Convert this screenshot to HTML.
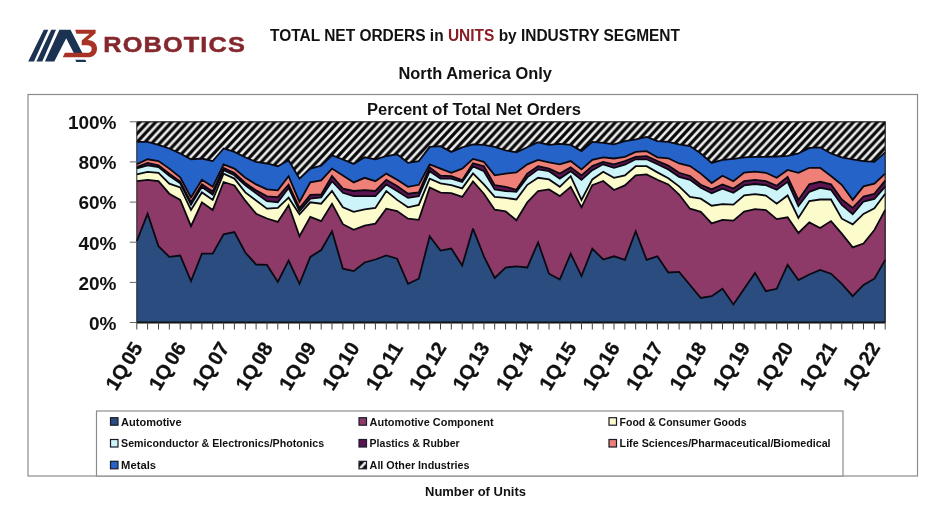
<!DOCTYPE html>
<html lang="en"><head><meta charset="utf-8"><title>Total Net Orders in Units by Industry Segment</title>
<style>html,body{margin:0;padding:0;background:#fff}body{width:946px;height:516px;overflow:hidden}svg{display:block}text{font-family:"Liberation Sans",sans-serif;font-weight:bold;fill:#111}</style>
</head><body>
<svg width="946" height="516" viewBox="0 0 946 516">
<defs><pattern id="hatch" patternUnits="userSpaceOnUse" width="7.93" height="8.5"><rect width="7.93" height="8.5" fill="#eeeeee"/><path d="M-3.965,4.25 L3.965,-4.25 M-1.9825,10.625 L9.9125,-2.125 M3.965,12.75 L11.895,4.25" stroke="#080808" stroke-width="3.2" fill="none"/></pattern></defs>
<rect width="946" height="516" fill="#fff"/>
<g id="logo">
<polygon points="28.2,61.6 34.0,61.6 48.3,29.8 43.8,29.8" fill="#1b3252"/>
<polygon points="36.4,61.6 42.3,61.6 56.0,29.8 51.3,29.8" fill="#1b3252"/>
<polygon points="44.9,61.6 54.3,61.6 66.2,38.2 73.9,53.2 82.5,53.2 70.5,29.8 59.4,29.8" fill="#1b3252"/>
<polygon points="75.2,59.7 85.4,59.7 86.3,61.9 76.4,61.9" fill="#1b3252"/>
<path d="M75.2,29.8 H95.6 V33.3 L87.6,39.9 C93.500,40.2 97,43.5 97,48.4 C97,54 93.3,57.3 88,57.3 H62.8 L64.9,52.8 H86.8 C89.8,52.8 91.7,51.4 91.7,48.900 C91.7,46.5 90,45.3 86.8,45.3 H81.7 V40.4 L89.6,33.8 H76.4 Z" fill="#a93226"/>
<text x="103.3" y="52.2" font-size="22.6" textLength="142.6" lengthAdjust="spacingAndGlyphs" style="fill:#84282e;letter-spacing:1px" stroke="#84282e" stroke-width="0.5">ROBOTICS</text>
</g>
<text x="270" y="41.3" font-size="15.6" textLength="410" lengthAdjust="spacingAndGlyphs">TOTAL NET ORDERS in <tspan style="fill:#8c1c24">UNITS</tspan> by INDUSTRY SEGMENT</text>
<text x="398.5" y="79" font-size="15.6" textLength="153.5" lengthAdjust="spacingAndGlyphs">North America Only</text>
<rect x="28" y="94.5" width="889.5" height="381.5" fill="#fff" stroke="#8c8c8c" stroke-width="1.2"/>
<text x="367" y="114.5" font-size="15.6" textLength="214" lengthAdjust="spacingAndGlyphs">Percent of Total Net Orders</text>
<g stroke="none">
<polygon points="136.8,241.2 147.6,213.7 158.5,246.2 169.3,256.9 180.2,255.5 191.0,281.2 201.9,253.7 212.7,253.7 223.6,234.4 234.4,232.0 245.3,252.5 256.1,264.5 267.0,264.9 277.8,282.0 288.6,260.5 299.5,283.8 310.3,256.9 321.2,250.0 332.0,231.2 342.9,268.7 353.7,271.1 364.6,262.5 375.4,259.5 386.3,255.5 397.1,258.7 408.0,283.8 418.8,278.7 429.7,236.2 440.5,250.6 451.3,248.6 462.2,265.5 473.0,228.6 483.9,256.3 494.7,277.9 505.6,267.5 516.4,266.3 527.3,267.5 538.1,242.4 549.0,273.7 559.8,279.6 570.7,253.7 581.5,276.1 592.3,248.6 603.2,259.5 614.0,256.3 624.9,259.9 635.7,231.2 646.6,259.9 657.4,256.3 668.3,272.5 679.1,271.9 690.0,285.0 700.8,298.0 711.7,296.2 722.5,288.8 733.4,304.4 744.2,288.8 755.0,272.9 765.9,291.2 776.7,288.8 787.6,264.9 798.4,280.0 809.3,274.5 820.1,269.9 831.0,273.7 841.8,283.8 852.7,296.2 863.5,285.0 874.4,278.7 885.2,259.9 885.2,322.5 874.4,322.5 863.5,322.5 852.7,322.5 841.8,322.5 831.0,322.5 820.1,322.5 809.3,322.5 798.4,322.5 787.6,322.5 776.7,322.5 765.9,322.5 755.0,322.5 744.2,322.5 733.4,322.5 722.5,322.5 711.7,322.5 700.8,322.5 690.0,322.5 679.1,322.5 668.3,322.5 657.4,322.5 646.6,322.5 635.7,322.5 624.9,322.5 614.0,322.5 603.2,322.5 592.3,322.5 581.5,322.5 570.7,322.5 559.8,322.5 549.0,322.5 538.1,322.5 527.3,322.5 516.4,322.5 505.6,322.5 494.7,322.5 483.9,322.5 473.0,322.5 462.2,322.5 451.3,322.5 440.5,322.5 429.7,322.5 418.8,322.5 408.0,322.5 397.1,322.5 386.3,322.5 375.4,322.5 364.6,322.5 353.7,322.5 342.9,322.5 332.0,322.5 321.2,322.5 310.3,322.5 299.5,322.5 288.6,322.5 277.8,322.5 267.0,322.5 256.1,322.5 245.3,322.5 234.4,322.5 223.6,322.5 212.7,322.5 201.9,322.5 191.0,322.5 180.2,322.5 169.3,322.5 158.5,322.5 147.6,322.5 136.8,322.5" fill="#2b4c7e"/>
<polygon points="136.8,181.2 147.6,179.8 158.5,181.2 169.3,193.7 180.2,199.9 191.0,226.2 201.9,202.3 212.7,210.1 223.6,182.0 234.4,185.4 245.3,200.7 256.1,213.7 267.0,218.5 277.8,221.9 288.6,205.3 299.5,236.2 310.3,216.9 321.2,221.1 332.0,203.7 342.9,224.2 353.7,229.8 364.6,225.6 375.4,223.6 386.3,208.7 397.1,211.1 408.0,218.7 418.8,219.9 429.7,187.4 440.5,192.6 451.3,193.2 462.2,196.9 473.0,181.4 483.9,193.7 494.7,209.7 505.6,211.3 516.4,220.3 527.3,202.3 538.1,191.0 549.0,189.4 559.8,196.1 570.7,186.8 581.5,207.3 592.3,185.2 603.2,181.0 614.0,190.0 624.9,185.4 635.7,175.4 646.6,174.4 657.4,179.8 668.3,184.4 679.1,194.5 690.0,208.7 700.8,211.9 711.7,223.4 722.5,219.9 733.4,220.7 744.2,211.5 755.0,209.1 765.9,210.1 776.7,219.1 787.6,217.3 798.4,233.0 809.3,222.4 820.1,228.0 831.0,221.1 841.8,233.6 852.7,247.4 863.5,243.6 874.4,230.0 885.2,209.9 885.2,259.9 874.4,278.7 863.5,285.0 852.7,296.2 841.8,283.8 831.0,273.7 820.1,269.9 809.3,274.5 798.4,280.0 787.6,264.9 776.7,288.8 765.9,291.2 755.0,272.9 744.2,288.8 733.4,304.4 722.5,288.8 711.7,296.2 700.8,298.0 690.0,285.0 679.1,271.9 668.3,272.5 657.4,256.3 646.6,259.9 635.7,231.2 624.9,259.9 614.0,256.3 603.2,259.5 592.3,248.6 581.5,276.1 570.7,253.7 559.8,279.6 549.0,273.7 538.1,242.4 527.3,267.5 516.4,266.3 505.6,267.5 494.7,277.9 483.9,256.3 473.0,228.6 462.2,265.5 451.3,248.6 440.5,250.6 429.7,236.2 418.8,278.7 408.0,283.8 397.1,258.7 386.3,255.5 375.4,259.5 364.6,262.5 353.7,271.1 342.9,268.7 332.0,231.2 321.2,250.0 310.3,256.9 299.5,283.8 288.6,260.5 277.8,282.0 267.0,264.9 256.1,264.5 245.3,252.5 234.4,232.0 223.6,234.4 212.7,253.7 201.9,253.7 191.0,281.2 180.2,255.5 169.3,256.9 158.5,246.2 147.6,213.7 136.8,241.2" fill="#8e3a68"/>
<polygon points="136.8,174.4 147.6,171.8 158.5,172.8 169.3,183.6 180.2,187.4 191.0,209.9 201.9,192.4 212.7,199.9 223.6,173.6 234.4,178.6 245.3,192.4 256.1,200.5 267.0,208.7 277.8,207.9 288.6,197.7 299.5,214.3 310.3,202.3 321.2,203.7 332.0,191.0 342.9,207.3 353.7,211.9 364.6,209.3 375.4,207.9 386.3,191.0 397.1,199.9 408.0,207.3 418.8,204.9 429.7,178.6 440.5,183.4 451.3,185.2 462.2,188.4 473.0,173.4 483.9,184.4 494.7,196.9 505.6,197.9 516.4,199.5 527.3,184.8 538.1,177.8 549.0,179.4 559.8,186.8 570.7,176.2 581.5,199.9 592.3,179.4 603.2,171.8 614.0,177.8 624.9,175.4 635.7,166.2 646.6,166.2 657.4,172.4 668.3,178.2 679.1,186.4 690.0,196.9 700.8,198.7 711.7,205.7 722.5,204.1 733.4,204.7 744.2,195.3 755.0,194.1 765.9,195.5 776.7,203.7 787.6,195.5 798.4,217.9 809.3,201.1 820.1,199.5 831.0,199.5 841.8,218.7 852.7,224.4 863.5,213.9 874.4,208.3 885.2,193.7 885.2,209.9 874.4,230.0 863.5,243.6 852.7,247.4 841.8,233.6 831.0,221.1 820.1,228.0 809.3,222.4 798.4,233.0 787.6,217.3 776.7,219.1 765.9,210.1 755.0,209.1 744.2,211.5 733.4,220.7 722.5,219.9 711.7,223.4 700.8,211.9 690.0,208.7 679.1,194.5 668.3,184.4 657.4,179.8 646.6,174.4 635.7,175.4 624.9,185.4 614.0,190.0 603.2,181.0 592.3,185.2 581.5,207.3 570.7,186.8 559.8,196.1 549.0,189.4 538.1,191.0 527.3,202.3 516.4,220.3 505.6,211.3 494.7,209.7 483.9,193.7 473.0,181.4 462.2,196.9 451.3,193.2 440.5,192.6 429.7,187.4 418.8,219.9 408.0,218.7 397.1,211.1 386.3,208.7 375.4,223.6 364.6,225.6 353.7,229.8 342.9,224.2 332.0,203.7 321.2,221.1 310.3,216.9 299.5,236.2 288.6,205.3 277.8,221.9 267.0,218.5 256.1,213.7 245.3,200.7 234.4,185.4 223.6,182.0 212.7,210.1 201.9,202.3 191.0,226.2 180.2,199.9 169.3,193.7 158.5,181.2 147.6,179.8 136.8,181.2" fill="#fbfbcb"/>
<polygon points="136.8,168.3 147.6,165.3 158.5,167.1 169.3,175.7 180.2,183.3 191.0,204.6 201.9,186.9 212.7,194.6 223.6,170.3 234.4,175.3 245.3,185.3 256.1,193.3 267.0,201.2 277.8,202.2 288.6,187.9 299.5,211.2 310.3,198.7 321.2,197.5 332.0,181.2 342.9,192.8 353.7,196.1 364.6,196.1 375.4,196.1 386.3,184.4 397.1,191.0 408.0,197.9 418.8,196.1 429.7,171.2 440.5,178.6 451.3,178.6 462.2,182.0 473.0,166.4 483.9,171.2 494.7,189.4 505.6,191.0 516.4,191.8 527.3,177.4 538.1,169.4 549.0,171.2 559.8,178.6 570.7,171.2 581.5,179.8 592.3,170.2 603.2,164.3 614.0,167.8 624.9,164.7 635.7,159.3 646.6,159.3 657.4,164.3 668.3,169.4 679.1,176.8 690.0,179.8 700.8,187.8 711.7,193.2 722.5,188.6 733.4,192.8 744.2,185.4 755.0,184.0 765.9,185.2 776.7,189.8 787.6,181.8 798.4,206.1 809.3,191.8 820.1,187.8 831.0,189.8 841.8,204.9 852.7,214.3 863.5,201.5 874.4,198.9 885.2,186.6 885.2,193.7 874.4,208.3 863.5,213.9 852.7,224.4 841.8,218.7 831.0,199.5 820.1,199.5 809.3,201.1 798.4,217.9 787.6,195.5 776.7,203.7 765.9,195.5 755.0,194.1 744.2,195.3 733.4,204.7 722.5,204.1 711.7,205.7 700.8,198.7 690.0,196.9 679.1,186.4 668.3,178.2 657.4,172.4 646.6,166.2 635.7,166.2 624.9,175.4 614.0,177.8 603.2,171.8 592.3,179.4 581.5,199.9 570.7,176.2 559.8,186.8 549.0,179.4 538.1,177.8 527.3,184.8 516.4,199.5 505.6,197.9 494.7,196.9 483.9,184.4 473.0,173.4 462.2,188.4 451.3,185.2 440.5,183.4 429.7,178.6 418.8,204.9 408.0,207.3 397.1,199.9 386.3,191.0 375.4,207.9 364.6,209.3 353.7,211.9 342.9,207.3 332.0,191.0 321.2,203.7 310.3,202.3 299.5,214.3 288.6,197.7 277.8,207.9 267.0,208.7 256.1,200.5 245.3,192.4 234.4,178.6 223.6,173.6 212.7,199.9 201.9,192.4 191.0,209.9 180.2,187.4 169.3,183.6 158.5,172.8 147.6,171.8 136.8,174.4" fill="#cdf4f8"/>
<polygon points="136.8,167.2 147.6,162.9 158.5,165.4 169.3,173.6 180.2,181.6 191.0,202.3 201.9,184.2 212.7,191.6 223.6,168.0 234.4,173.0 245.3,183.0 256.1,190.4 267.0,196.3 277.8,197.1 288.6,184.6 299.5,208.1 310.3,194.9 321.2,194.5 332.0,176.0 342.9,188.6 353.7,191.0 364.6,190.2 375.4,191.0 386.3,179.8 397.1,186.0 408.0,193.7 418.8,192.4 429.7,167.4 440.5,175.6 451.3,176.2 462.2,180.2 473.0,163.3 483.9,166.2 494.7,185.2 505.6,186.8 516.4,189.8 527.3,173.6 538.1,166.2 549.0,168.6 559.8,173.6 570.7,167.4 581.5,175.4 592.3,166.0 603.2,161.9 614.0,164.3 624.9,161.1 635.7,156.9 646.6,156.1 657.4,161.1 668.3,165.6 679.1,172.8 690.0,176.0 700.8,184.8 711.7,189.4 722.5,184.4 733.4,188.6 744.2,181.2 755.0,179.8 765.9,181.2 776.7,185.8 787.6,177.0 798.4,199.9 809.3,184.4 820.1,181.8 831.0,184.4 841.8,199.5 852.7,207.9 863.5,196.5 874.4,193.9 885.2,180.6 885.2,186.6 874.4,198.9 863.5,201.5 852.7,214.3 841.8,204.9 831.0,189.8 820.1,187.8 809.3,191.8 798.4,206.1 787.6,181.8 776.7,189.8 765.9,185.2 755.0,184.0 744.2,185.4 733.4,192.8 722.5,188.6 711.7,193.2 700.8,187.8 690.0,179.8 679.1,176.8 668.3,169.4 657.4,164.3 646.6,159.3 635.7,159.3 624.9,164.7 614.0,167.8 603.2,164.3 592.3,170.2 581.5,179.8 570.7,171.2 559.8,178.6 549.0,171.2 538.1,169.4 527.3,177.4 516.4,191.8 505.6,191.0 494.7,189.4 483.9,171.2 473.0,166.4 462.2,182.0 451.3,178.6 440.5,178.6 429.7,171.2 418.8,196.1 408.0,197.9 397.1,191.0 386.3,184.4 375.4,196.1 364.6,196.1 353.7,196.1 342.9,192.8 332.0,181.2 321.2,197.5 310.3,198.7 299.5,211.2 288.6,187.9 277.8,202.2 267.0,201.2 256.1,193.3 245.3,185.3 234.4,175.3 223.6,170.3 212.7,194.6 201.9,186.9 191.0,204.6 180.2,183.3 169.3,175.7 158.5,167.1 147.6,165.3 136.8,168.3" fill="#5c1452"/>
<polygon points="136.8,164.3 147.6,159.3 158.5,161.1 169.3,168.6 180.2,177.4 191.0,197.5 201.9,179.8 212.7,186.8 223.6,164.3 234.4,168.6 245.3,177.8 256.1,184.4 267.0,189.4 277.8,190.4 288.6,176.2 299.5,201.9 310.3,182.4 321.2,180.4 332.0,168.6 342.9,175.4 353.7,182.4 364.6,177.8 375.4,181.2 386.3,173.6 397.1,179.8 408.0,186.8 418.8,184.8 429.7,164.3 440.5,168.6 451.3,172.8 462.2,168.6 473.0,158.9 483.9,161.9 494.7,175.4 505.6,173.6 516.4,172.4 527.3,164.3 538.1,159.9 549.0,162.3 559.8,164.3 570.7,161.1 581.5,169.4 592.3,159.9 603.2,157.3 614.0,158.5 624.9,156.9 635.7,151.9 646.6,151.1 657.4,157.3 668.3,158.3 679.1,163.5 690.0,166.0 700.8,173.6 711.7,183.0 722.5,175.8 733.4,181.2 744.2,172.6 755.0,171.6 765.9,172.8 776.7,177.8 787.6,170.0 798.4,172.8 809.3,167.8 820.1,167.8 831.0,176.0 841.8,184.8 852.7,199.9 863.5,186.4 874.4,183.6 885.2,173.6 885.2,180.6 874.4,193.9 863.5,196.5 852.7,207.9 841.8,199.5 831.0,184.4 820.1,181.8 809.3,184.4 798.4,199.9 787.6,177.0 776.7,185.8 765.9,181.2 755.0,179.8 744.2,181.2 733.4,188.6 722.5,184.4 711.7,189.4 700.8,184.8 690.0,176.0 679.1,172.8 668.3,165.6 657.4,161.1 646.6,156.1 635.7,156.9 624.9,161.1 614.0,164.3 603.2,161.9 592.3,166.0 581.5,175.4 570.7,167.4 559.8,173.6 549.0,168.6 538.1,166.2 527.3,173.6 516.4,189.8 505.6,186.8 494.7,185.2 483.9,166.2 473.0,163.3 462.2,180.2 451.3,176.2 440.5,175.6 429.7,167.4 418.8,192.4 408.0,193.7 397.1,186.0 386.3,179.8 375.4,191.0 364.6,190.2 353.7,191.0 342.9,188.6 332.0,176.0 321.2,194.5 310.3,194.9 299.5,208.1 288.6,184.6 277.8,197.1 267.0,196.3 256.1,190.4 245.3,183.0 234.4,173.0 223.6,168.0 212.7,191.6 201.9,184.2 191.0,202.3 180.2,181.6 169.3,173.6 158.5,165.4 147.6,162.9 136.8,167.2" fill="#ef8078"/>
<polygon points="136.8,141.9 147.6,141.9 158.5,144.9 169.3,148.5 180.2,153.5 191.0,159.3 201.9,158.5 212.7,161.1 223.6,148.5 234.4,151.9 245.3,157.3 256.1,161.9 267.0,163.5 277.8,166.2 288.6,160.3 299.5,178.6 310.3,168.6 321.2,165.6 332.0,155.3 342.9,159.5 353.7,163.9 364.6,157.3 375.4,159.3 386.3,156.1 397.1,154.3 408.0,162.9 418.8,161.1 429.7,146.9 440.5,146.1 451.3,151.9 462.2,147.3 473.0,144.3 483.9,144.9 494.7,146.9 505.6,150.3 516.4,152.3 527.3,147.3 538.1,142.3 549.0,144.9 559.8,143.9 570.7,144.9 581.5,151.1 592.3,141.9 603.2,142.9 614.0,144.3 624.9,141.1 635.7,139.3 646.6,136.9 657.4,141.1 668.3,141.9 679.1,144.3 690.0,146.1 700.8,153.5 711.7,162.9 722.5,159.9 733.4,158.9 744.2,157.3 755.0,156.9 765.9,156.9 776.7,156.5 787.6,155.9 798.4,153.5 809.3,147.9 820.1,147.3 831.0,153.5 841.8,157.3 852.7,159.3 863.5,161.1 874.4,161.9 885.2,152.3 885.2,173.6 874.4,183.6 863.5,186.4 852.7,199.9 841.8,184.8 831.0,176.0 820.1,167.8 809.3,167.8 798.4,172.8 787.6,170.0 776.7,177.8 765.9,172.8 755.0,171.6 744.2,172.6 733.4,181.2 722.5,175.8 711.7,183.0 700.8,173.6 690.0,166.0 679.1,163.5 668.3,158.3 657.4,157.3 646.6,151.1 635.7,151.9 624.9,156.9 614.0,158.5 603.2,157.3 592.3,159.9 581.5,169.4 570.7,161.1 559.8,164.3 549.0,162.3 538.1,159.9 527.3,164.3 516.4,172.4 505.6,173.6 494.7,175.4 483.9,161.9 473.0,158.9 462.2,168.6 451.3,172.8 440.5,168.6 429.7,164.3 418.8,184.8 408.0,186.8 397.1,179.8 386.3,173.6 375.4,181.2 364.6,177.8 353.7,182.4 342.9,175.4 332.0,168.6 321.2,180.4 310.3,182.4 299.5,201.9 288.6,176.2 277.8,190.4 267.0,189.4 256.1,184.4 245.3,177.8 234.4,168.6 223.6,164.3 212.7,186.8 201.9,179.8 191.0,197.5 180.2,177.4 169.3,168.6 158.5,161.1 147.6,159.3 136.8,164.3" fill="#2563c8"/>
<polygon points="136.8,121.8 147.6,121.8 158.5,121.8 169.3,121.8 180.2,121.8 191.0,121.8 201.9,121.8 212.7,121.8 223.6,121.8 234.4,121.8 245.3,121.8 256.1,121.8 267.0,121.8 277.8,121.8 288.6,121.8 299.5,121.8 310.3,121.8 321.2,121.8 332.0,121.8 342.9,121.8 353.7,121.8 364.6,121.8 375.4,121.8 386.3,121.8 397.1,121.8 408.0,121.8 418.8,121.8 429.7,121.8 440.5,121.8 451.3,121.8 462.2,121.8 473.0,121.8 483.9,121.8 494.7,121.8 505.6,121.8 516.4,121.8 527.3,121.8 538.1,121.8 549.0,121.8 559.8,121.8 570.7,121.8 581.5,121.8 592.3,121.8 603.2,121.8 614.0,121.8 624.9,121.8 635.7,121.8 646.6,121.8 657.4,121.8 668.3,121.8 679.1,121.8 690.0,121.8 700.8,121.8 711.7,121.8 722.5,121.8 733.4,121.8 744.2,121.8 755.0,121.8 765.9,121.8 776.7,121.8 787.6,121.8 798.4,121.8 809.3,121.8 820.1,121.8 831.0,121.8 841.8,121.8 852.7,121.8 863.5,121.8 874.4,121.8 885.2,121.8 885.2,152.3 874.4,161.9 863.5,161.1 852.7,159.3 841.8,157.3 831.0,153.5 820.1,147.3 809.3,147.9 798.4,153.5 787.6,155.9 776.7,156.5 765.9,156.9 755.0,156.9 744.2,157.3 733.4,158.9 722.5,159.9 711.7,162.9 700.8,153.5 690.0,146.1 679.1,144.3 668.3,141.9 657.4,141.1 646.6,136.9 635.7,139.3 624.9,141.1 614.0,144.3 603.2,142.9 592.3,141.9 581.5,151.1 570.7,144.9 559.8,143.9 549.0,144.9 538.1,142.3 527.3,147.3 516.4,152.3 505.6,150.3 494.7,146.9 483.9,144.9 473.0,144.3 462.2,147.3 451.3,151.9 440.5,146.1 429.7,146.9 418.8,161.1 408.0,162.9 397.1,154.3 386.3,156.1 375.4,159.3 364.6,157.3 353.7,163.9 342.9,159.5 332.0,155.3 321.2,165.6 310.3,168.6 299.5,178.6 288.6,160.3 277.8,166.2 267.0,163.5 256.1,161.9 245.3,157.3 234.4,151.9 223.6,148.5 212.7,161.1 201.9,158.5 191.0,159.3 180.2,153.5 169.3,148.5 158.5,144.9 147.6,141.9 136.8,141.9" fill="url(#hatch)"/>
</g>
<g fill="none" stroke="#0a0810" stroke-width="1.8" stroke-linejoin="miter" stroke-miterlimit="3">
<polyline points="136.8,241.2 147.6,213.7 158.5,246.2 169.3,256.9 180.2,255.5 191.0,281.2 201.9,253.7 212.7,253.7 223.6,234.4 234.4,232.0 245.3,252.5 256.1,264.5 267.0,264.9 277.8,282.0 288.6,260.5 299.5,283.8 310.3,256.9 321.2,250.0 332.0,231.2 342.9,268.7 353.7,271.1 364.6,262.5 375.4,259.5 386.3,255.5 397.1,258.7 408.0,283.8 418.8,278.7 429.7,236.2 440.5,250.6 451.3,248.6 462.2,265.5 473.0,228.6 483.9,256.3 494.7,277.9 505.6,267.5 516.4,266.3 527.3,267.5 538.1,242.4 549.0,273.7 559.8,279.6 570.7,253.7 581.5,276.1 592.3,248.6 603.2,259.5 614.0,256.3 624.9,259.9 635.7,231.2 646.6,259.9 657.4,256.3 668.3,272.5 679.1,271.9 690.0,285.0 700.8,298.0 711.7,296.2 722.5,288.8 733.4,304.4 744.2,288.8 755.0,272.9 765.9,291.2 776.7,288.8 787.6,264.9 798.4,280.0 809.3,274.5 820.1,269.9 831.0,273.7 841.8,283.8 852.7,296.2 863.5,285.0 874.4,278.7 885.2,259.9"/>
<polyline points="136.8,181.2 147.6,179.8 158.5,181.2 169.3,193.7 180.2,199.9 191.0,226.2 201.9,202.3 212.7,210.1 223.6,182.0 234.4,185.4 245.3,200.7 256.1,213.7 267.0,218.5 277.8,221.9 288.6,205.3 299.5,236.2 310.3,216.9 321.2,221.1 332.0,203.7 342.9,224.2 353.7,229.8 364.6,225.6 375.4,223.6 386.3,208.7 397.1,211.1 408.0,218.7 418.8,219.9 429.7,187.4 440.5,192.6 451.3,193.2 462.2,196.9 473.0,181.4 483.9,193.7 494.7,209.7 505.6,211.3 516.4,220.3 527.3,202.3 538.1,191.0 549.0,189.4 559.8,196.1 570.7,186.8 581.5,207.3 592.3,185.2 603.2,181.0 614.0,190.0 624.9,185.4 635.7,175.4 646.6,174.4 657.4,179.8 668.3,184.4 679.1,194.5 690.0,208.7 700.8,211.9 711.7,223.4 722.5,219.9 733.4,220.7 744.2,211.5 755.0,209.1 765.9,210.1 776.7,219.1 787.6,217.3 798.4,233.0 809.3,222.4 820.1,228.0 831.0,221.1 841.8,233.6 852.7,247.4 863.5,243.6 874.4,230.0 885.2,209.9"/>
<polyline points="136.8,174.4 147.6,171.8 158.5,172.8 169.3,183.6 180.2,187.4 191.0,209.9 201.9,192.4 212.7,199.9 223.6,173.6 234.4,178.6 245.3,192.4 256.1,200.5 267.0,208.7 277.8,207.9 288.6,197.7 299.5,214.3 310.3,202.3 321.2,203.7 332.0,191.0 342.9,207.3 353.7,211.9 364.6,209.3 375.4,207.9 386.3,191.0 397.1,199.9 408.0,207.3 418.8,204.9 429.7,178.6 440.5,183.4 451.3,185.2 462.2,188.4 473.0,173.4 483.9,184.4 494.7,196.9 505.6,197.9 516.4,199.5 527.3,184.8 538.1,177.8 549.0,179.4 559.8,186.8 570.7,176.2 581.5,199.9 592.3,179.4 603.2,171.8 614.0,177.8 624.9,175.4 635.7,166.2 646.6,166.2 657.4,172.4 668.3,178.2 679.1,186.4 690.0,196.9 700.8,198.7 711.7,205.7 722.5,204.1 733.4,204.7 744.2,195.3 755.0,194.1 765.9,195.5 776.7,203.7 787.6,195.5 798.4,217.9 809.3,201.1 820.1,199.5 831.0,199.5 841.8,218.7 852.7,224.4 863.5,213.9 874.4,208.3 885.2,193.7"/>
<polyline points="136.8,168.3 147.6,165.3 158.5,167.1 169.3,175.7 180.2,183.3 191.0,204.6 201.9,186.9 212.7,194.6 223.6,170.3 234.4,175.3 245.3,185.3 256.1,193.3 267.0,201.2 277.8,202.2 288.6,187.9 299.5,211.2 310.3,198.7 321.2,197.5 332.0,181.2 342.9,192.8 353.7,196.1 364.6,196.1 375.4,196.1 386.3,184.4 397.1,191.0 408.0,197.9 418.8,196.1 429.7,171.2 440.5,178.6 451.3,178.6 462.2,182.0 473.0,166.4 483.9,171.2 494.7,189.4 505.6,191.0 516.4,191.8 527.3,177.4 538.1,169.4 549.0,171.2 559.8,178.6 570.7,171.2 581.5,179.8 592.3,170.2 603.2,164.3 614.0,167.8 624.9,164.7 635.7,159.3 646.6,159.3 657.4,164.3 668.3,169.4 679.1,176.8 690.0,179.8 700.8,187.8 711.7,193.2 722.5,188.6 733.4,192.8 744.2,185.4 755.0,184.0 765.9,185.2 776.7,189.8 787.6,181.8 798.4,206.1 809.3,191.8 820.1,187.8 831.0,189.8 841.8,204.9 852.7,214.3 863.5,201.5 874.4,198.9 885.2,186.6"/>
<polyline points="136.8,167.2 147.6,162.9 158.5,165.4 169.3,173.6 180.2,181.6 191.0,202.3 201.9,184.2 212.7,191.6 223.6,168.0 234.4,173.0 245.3,183.0 256.1,190.4 267.0,196.3 277.8,197.1 288.6,184.6 299.5,208.1 310.3,194.9 321.2,194.5 332.0,176.0 342.9,188.6 353.7,191.0 364.6,190.2 375.4,191.0 386.3,179.8 397.1,186.0 408.0,193.7 418.8,192.4 429.7,167.4 440.5,175.6 451.3,176.2 462.2,180.2 473.0,163.3 483.9,166.2 494.7,185.2 505.6,186.8 516.4,189.8 527.3,173.6 538.1,166.2 549.0,168.6 559.8,173.6 570.7,167.4 581.5,175.4 592.3,166.0 603.2,161.9 614.0,164.3 624.9,161.1 635.7,156.9 646.6,156.1 657.4,161.1 668.3,165.6 679.1,172.8 690.0,176.0 700.8,184.8 711.7,189.4 722.5,184.4 733.4,188.6 744.2,181.2 755.0,179.8 765.9,181.2 776.7,185.8 787.6,177.0 798.4,199.9 809.3,184.4 820.1,181.8 831.0,184.4 841.8,199.5 852.7,207.9 863.5,196.5 874.4,193.9 885.2,180.6"/>
<polyline points="136.8,164.3 147.6,159.3 158.5,161.1 169.3,168.6 180.2,177.4 191.0,197.5 201.9,179.8 212.7,186.8 223.6,164.3 234.4,168.6 245.3,177.8 256.1,184.4 267.0,189.4 277.8,190.4 288.6,176.2 299.5,201.9 310.3,182.4 321.2,180.4 332.0,168.6 342.9,175.4 353.7,182.4 364.6,177.8 375.4,181.2 386.3,173.6 397.1,179.8 408.0,186.8 418.8,184.8 429.7,164.3 440.5,168.6 451.3,172.8 462.2,168.6 473.0,158.9 483.9,161.9 494.7,175.4 505.6,173.6 516.4,172.4 527.3,164.3 538.1,159.9 549.0,162.3 559.8,164.3 570.7,161.1 581.5,169.4 592.3,159.9 603.2,157.3 614.0,158.5 624.9,156.9 635.7,151.9 646.6,151.1 657.4,157.3 668.3,158.3 679.1,163.5 690.0,166.0 700.8,173.6 711.7,183.0 722.5,175.8 733.4,181.2 744.2,172.6 755.0,171.6 765.9,172.8 776.7,177.8 787.6,170.0 798.4,172.8 809.3,167.8 820.1,167.8 831.0,176.0 841.8,184.8 852.7,199.9 863.5,186.4 874.4,183.6 885.2,173.6"/>
<polyline points="136.8,141.9 147.6,141.9 158.5,144.9 169.3,148.5 180.2,153.5 191.0,159.3 201.9,158.5 212.7,161.1 223.6,148.5 234.4,151.9 245.3,157.3 256.1,161.9 267.0,163.5 277.8,166.2 288.6,160.3 299.5,178.6 310.3,168.6 321.2,165.6 332.0,155.3 342.9,159.5 353.7,163.9 364.6,157.3 375.4,159.3 386.3,156.1 397.1,154.3 408.0,162.9 418.8,161.1 429.7,146.9 440.5,146.1 451.3,151.9 462.2,147.3 473.0,144.3 483.9,144.9 494.7,146.9 505.6,150.3 516.4,152.3 527.3,147.3 538.1,142.3 549.0,144.9 559.8,143.9 570.7,144.9 581.5,151.1 592.3,141.9 603.2,142.9 614.0,144.3 624.9,141.1 635.7,139.3 646.6,136.9 657.4,141.1 668.3,141.9 679.1,144.3 690.0,146.1 700.8,153.5 711.7,162.9 722.5,159.9 733.4,158.9 744.2,157.3 755.0,156.9 765.9,156.9 776.7,156.5 787.6,155.9 798.4,153.5 809.3,147.9 820.1,147.3 831.0,153.5 841.8,157.3 852.7,159.3 863.5,161.1 874.4,161.9 885.2,152.3"/>
</g>
<path d="M136.8,121.8 H885.2 V322.5" fill="none" stroke="#1a1a1a" stroke-width="1.2"/>
<g stroke="#222" stroke-width="1" fill="none">
<path d="M136.8,121.8 V322.5"/>
<path d="M136.8,322.5 H885.2" stroke-width="1.8" stroke="#111"/>
<path d="M129.8,322.5 H136.8" stroke="#666"/>
<path d="M129.8,282.4 H136.8" stroke="#666"/>
<path d="M129.8,242.2 H136.8" stroke="#666"/>
<path d="M129.8,202.1 H136.8" stroke="#666"/>
<path d="M129.8,161.9 H136.8" stroke="#666"/>
<path d="M129.8,121.8 H136.8" stroke="#666"/>
<path d="M136.8,322.5 v7 M147.6,322.5 v7 M158.5,322.5 v7 M169.3,322.5 v7 M180.2,322.5 v7 M191.0,322.5 v7 M201.9,322.5 v7 M212.7,322.5 v7 M223.6,322.5 v7 M234.4,322.5 v7 M245.3,322.5 v7 M256.1,322.5 v7 M267.0,322.5 v7 M277.8,322.5 v7 M288.6,322.5 v7 M299.5,322.5 v7 M310.3,322.5 v7 M321.2,322.5 v7 M332.0,322.5 v7 M342.9,322.5 v7 M353.7,322.5 v7 M364.6,322.5 v7 M375.4,322.5 v7 M386.3,322.5 v7 M397.1,322.5 v7 M408.0,322.5 v7 M418.8,322.5 v7 M429.7,322.5 v7 M440.5,322.5 v7 M451.3,322.5 v7 M462.2,322.5 v7 M473.0,322.5 v7 M483.9,322.5 v7 M494.7,322.5 v7 M505.6,322.5 v7 M516.4,322.5 v7 M527.3,322.5 v7 M538.1,322.5 v7 M549.0,322.5 v7 M559.8,322.5 v7 M570.7,322.5 v7 M581.5,322.5 v7 M592.3,322.5 v7 M603.2,322.5 v7 M614.0,322.5 v7 M624.9,322.5 v7 M635.7,322.5 v7 M646.6,322.5 v7 M657.4,322.5 v7 M668.3,322.5 v7 M679.1,322.5 v7 M690.0,322.5 v7 M700.8,322.5 v7 M711.7,322.5 v7 M722.5,322.5 v7 M733.4,322.5 v7 M744.2,322.5 v7 M755.0,322.5 v7 M765.9,322.5 v7 M776.7,322.5 v7 M787.6,322.5 v7 M798.4,322.5 v7 M809.3,322.5 v7 M820.1,322.5 v7 M831.0,322.5 v7 M841.8,322.5 v7 M852.7,322.5 v7 M863.5,322.5 v7 M874.4,322.5 v7 M885.2,322.5 v7 " stroke="#444" stroke-width="1"/>
</g>
<text x="116.5" y="329.8" font-size="19" text-anchor="end">0%</text>
<text x="116.5" y="289.7" font-size="19" text-anchor="end">20%</text>
<text x="116.5" y="249.5" font-size="19" text-anchor="end">40%</text>
<text x="116.5" y="209.4" font-size="19" text-anchor="end">60%</text>
<text x="116.5" y="169.2" font-size="19" text-anchor="end">80%</text>
<text x="116.5" y="129.1" font-size="19" text-anchor="end">100%</text>
<text transform="translate(143.3,347.5) rotate(-58.5)" font-size="20" text-anchor="end" textLength="52" lengthAdjust="spacingAndGlyphs" style="word-spacing:-2.5px" stroke="#111" stroke-width="0.3">1Q 05</text>
<text transform="translate(186.7,347.5) rotate(-58.5)" font-size="20" text-anchor="end" textLength="52" lengthAdjust="spacingAndGlyphs" style="word-spacing:-2.5px" stroke="#111" stroke-width="0.3">1Q 06</text>
<text transform="translate(230.1,347.5) rotate(-58.5)" font-size="20" text-anchor="end" textLength="52" lengthAdjust="spacingAndGlyphs" style="word-spacing:-2.5px" stroke="#111" stroke-width="0.3">1Q 07</text>
<text transform="translate(273.5,347.5) rotate(-58.5)" font-size="20" text-anchor="end" textLength="52" lengthAdjust="spacingAndGlyphs" style="word-spacing:-2.5px" stroke="#111" stroke-width="0.3">1Q 08</text>
<text transform="translate(316.8,347.5) rotate(-58.5)" font-size="20" text-anchor="end" textLength="52" lengthAdjust="spacingAndGlyphs" style="word-spacing:-2.5px" stroke="#111" stroke-width="0.3">1Q 09</text>
<text transform="translate(360.2,347.5) rotate(-58.5)" font-size="20" text-anchor="end" textLength="52" lengthAdjust="spacingAndGlyphs" style="word-spacing:-2.5px" stroke="#111" stroke-width="0.3">1Q 10</text>
<text transform="translate(403.6,347.5) rotate(-58.5)" font-size="20" text-anchor="end" textLength="52" lengthAdjust="spacingAndGlyphs" style="word-spacing:-2.5px" stroke="#111" stroke-width="0.3">1Q 11</text>
<text transform="translate(447.0,347.5) rotate(-58.5)" font-size="20" text-anchor="end" textLength="52" lengthAdjust="spacingAndGlyphs" style="word-spacing:-2.5px" stroke="#111" stroke-width="0.3">1Q 12</text>
<text transform="translate(490.4,347.5) rotate(-58.5)" font-size="20" text-anchor="end" textLength="52" lengthAdjust="spacingAndGlyphs" style="word-spacing:-2.5px" stroke="#111" stroke-width="0.3">1Q 13</text>
<text transform="translate(533.8,347.5) rotate(-58.5)" font-size="20" text-anchor="end" textLength="52" lengthAdjust="spacingAndGlyphs" style="word-spacing:-2.5px" stroke="#111" stroke-width="0.3">1Q 14</text>
<text transform="translate(577.2,347.5) rotate(-58.5)" font-size="20" text-anchor="end" textLength="52" lengthAdjust="spacingAndGlyphs" style="word-spacing:-2.5px" stroke="#111" stroke-width="0.3">1Q 15</text>
<text transform="translate(620.5,347.5) rotate(-58.5)" font-size="20" text-anchor="end" textLength="52" lengthAdjust="spacingAndGlyphs" style="word-spacing:-2.5px" stroke="#111" stroke-width="0.3">1Q 16</text>
<text transform="translate(663.9,347.5) rotate(-58.5)" font-size="20" text-anchor="end" textLength="52" lengthAdjust="spacingAndGlyphs" style="word-spacing:-2.5px" stroke="#111" stroke-width="0.3">1Q 17</text>
<text transform="translate(707.3,347.5) rotate(-58.5)" font-size="20" text-anchor="end" textLength="52" lengthAdjust="spacingAndGlyphs" style="word-spacing:-2.5px" stroke="#111" stroke-width="0.3">1Q 18</text>
<text transform="translate(750.7,347.5) rotate(-58.5)" font-size="20" text-anchor="end" textLength="52" lengthAdjust="spacingAndGlyphs" style="word-spacing:-2.5px" stroke="#111" stroke-width="0.3">1Q 19</text>
<text transform="translate(794.1,347.5) rotate(-58.5)" font-size="20" text-anchor="end" textLength="52" lengthAdjust="spacingAndGlyphs" style="word-spacing:-2.5px" stroke="#111" stroke-width="0.3">1Q 20</text>
<text transform="translate(837.5,347.5) rotate(-58.5)" font-size="20" text-anchor="end" textLength="52" lengthAdjust="spacingAndGlyphs" style="word-spacing:-2.5px" stroke="#111" stroke-width="0.3">1Q 21</text>
<text transform="translate(880.9,347.5) rotate(-58.5)" font-size="20" text-anchor="end" textLength="52" lengthAdjust="spacingAndGlyphs" style="word-spacing:-2.5px" stroke="#111" stroke-width="0.3">1Q 22</text>
<rect x="96.5" y="411" width="746.5" height="65" fill="#fff" stroke="#8c8c8c" stroke-width="1.2"/>
<rect x="110.5" y="417.7" width="7.5" height="7.5" fill="#2b4c7e" stroke="#1a1a2a" stroke-width="1.2"/>
<text x="121.1" y="425.5" font-size="11" textLength="60.5" lengthAdjust="spacingAndGlyphs">Automotive</text>
<rect x="359.0" y="417.7" width="7.5" height="7.5" fill="#8e3a68" stroke="#1a1a2a" stroke-width="1.2"/>
<text x="369.6" y="425.5" font-size="11" textLength="124.0" lengthAdjust="spacingAndGlyphs">Automotive Component</text>
<rect x="609.0" y="417.7" width="7.5" height="7.5" fill="#fbfbcb" stroke="#1a1a2a" stroke-width="1.2"/>
<text x="619.6" y="425.5" font-size="11" textLength="127.0" lengthAdjust="spacingAndGlyphs">Food &amp; Consumer Goods</text>
<rect x="110.5" y="439.5" width="7.5" height="7.5" fill="#cdf4f8" stroke="#1a1a2a" stroke-width="1.2"/>
<text x="121.1" y="447.3" font-size="11" textLength="203.0" lengthAdjust="spacingAndGlyphs">Semiconductor &amp; Electronics/Photonics</text>
<rect x="359.0" y="439.5" width="7.5" height="7.5" fill="#5c1452" stroke="#1a1a2a" stroke-width="1.2"/>
<text x="369.6" y="447.3" font-size="11" textLength="90.0" lengthAdjust="spacingAndGlyphs">Plastics &amp; Rubber</text>
<rect x="609.0" y="439.5" width="7.5" height="7.5" fill="#ef8078" stroke="#1a1a2a" stroke-width="1.2"/>
<text x="619.6" y="447.3" font-size="11" textLength="211.0" lengthAdjust="spacingAndGlyphs">Life Sciences/Pharmaceutical/Biomedical</text>
<rect x="110.5" y="461.3" width="7.5" height="7.5" fill="#2563c8" stroke="#1a1a2a" stroke-width="1.2"/>
<text x="121.1" y="469.1" font-size="11" textLength="35.0" lengthAdjust="spacingAndGlyphs">Metals</text>
<rect x="359.0" y="461.3" width="7.5" height="7.5" fill="url(#hatch)" stroke="#1a1a2a" stroke-width="1.2"/>
<text x="369.6" y="469.1" font-size="11" textLength="100.0" lengthAdjust="spacingAndGlyphs">All Other Industries</text>
<text x="425" y="496" font-size="12" textLength="101" lengthAdjust="spacingAndGlyphs">Number of Units</text>
</svg></body></html>
